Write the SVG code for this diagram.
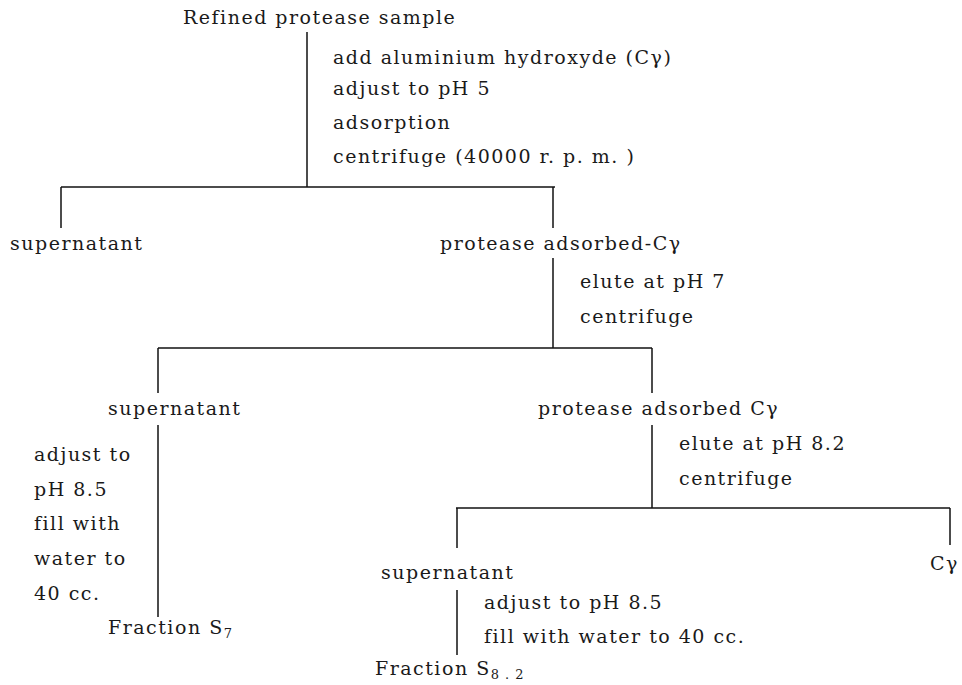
<svg xmlns="http://www.w3.org/2000/svg" width="962" height="685" viewBox="0 0 962 685" font-family="'DejaVu Serif', 'Liberation Serif', serif">
  <style>
    text { font-family: "DejaVu Serif", "Liberation Serif", serif; font-size: 19px; fill: #1a1a1a; letter-spacing: 1.5px; }
    .sub { font-size: 13px; letter-spacing: 1px; }
    .c { stroke: #111; stroke-width: 1.5; fill: none; }
  </style>
  <rect width="962" height="685" fill="#fff"/>

  <g id="connectors">
    <!-- first stage -->
    <line class="c" x1="307" y1="32" x2="307" y2="187"/>
    <line class="c" x1="61" y1="187" x2="555" y2="187"/>
    <line class="c" x1="61" y1="187" x2="61" y2="228"/>
    <line class="c" x1="553" y1="187" x2="553" y2="228"/>
    <!-- elution at pH 7 -->
    <line class="c" x1="553" y1="258" x2="553" y2="348"/>
    <line class="c" x1="158" y1="348" x2="652" y2="348"/>
    <line class="c" x1="158" y1="348" x2="158" y2="393"/>
    <line class="c" x1="652" y1="348" x2="652" y2="393"/>
    <!-- supernatant to Fraction S7 -->
    <line class="c" x1="158" y1="425" x2="158" y2="617"/>
    <!-- elution at pH 8.2 -->
    <line class="c" x1="652" y1="425" x2="652" y2="508"/>
    <line class="c" x1="456" y1="508" x2="950" y2="508"/>
    <line class="c" x1="457" y1="508" x2="457" y2="548"/>
    <line class="c" x1="950" y1="508" x2="950" y2="545"/>
    <!-- supernatant to Fraction S8.2 -->
    <line class="c" x1="457" y1="590" x2="457" y2="655"/>
  </g>

  <g id="sample">
    <text x="183" y="24">Refined protease sample</text>
  </g>
  <g id="step1">
    <text x="333" y="64">add aluminium hydroxyde (Cγ)</text>
    <text x="333" y="95">adjust to pH 5</text>
    <text x="333" y="129">adsorption</text>
    <text x="333" y="163">centrifuge (40000 r. p. m. )</text>
  </g>
  <g id="supernatant1">
    <text x="10" y="250">supernatant</text>
  </g>
  <g id="adsorbed1">
    <text x="440" y="250">protease adsorbed-Cγ</text>
  </g>
  <g id="step2">
    <text x="580" y="288">elute at pH 7</text>
    <text x="580" y="323">centrifuge</text>
  </g>
  <g id="supernatant2">
    <text x="108" y="415">supernatant</text>
  </g>
  <g id="step-s7">
    <text x="34" y="461">adjust to</text>
    <text x="34" y="496">pH 8.5</text>
    <text x="34" y="530">fill with</text>
    <text x="34" y="565">water to</text>
    <text x="34" y="600">40 cc.</text>
  </g>
  <g id="fraction-s7">
    <text x="108" y="634">Fraction S<tspan class="sub" dy="4">7</tspan></text>
  </g>
  <g id="adsorbed2">
    <text x="538" y="415">protease adsorbed Cγ</text>
  </g>
  <g id="step3">
    <text x="679" y="450">elute at pH 8.2</text>
    <text x="679" y="485">centrifuge</text>
  </g>
  <g id="cgamma">
    <text x="930" y="570">Cγ</text>
  </g>
  <g id="supernatant3">
    <text x="381" y="579">supernatant</text>
  </g>
  <g id="step-s82">
    <text x="484" y="609">adjust to pH 8.5</text>
    <text x="484" y="643">fill with water to 40 cc.</text>
  </g>
  <g id="fraction-s82">
    <text x="375" y="675">Fraction S<tspan class="sub" dy="4">8 . 2</tspan></text>
  </g>
</svg>
